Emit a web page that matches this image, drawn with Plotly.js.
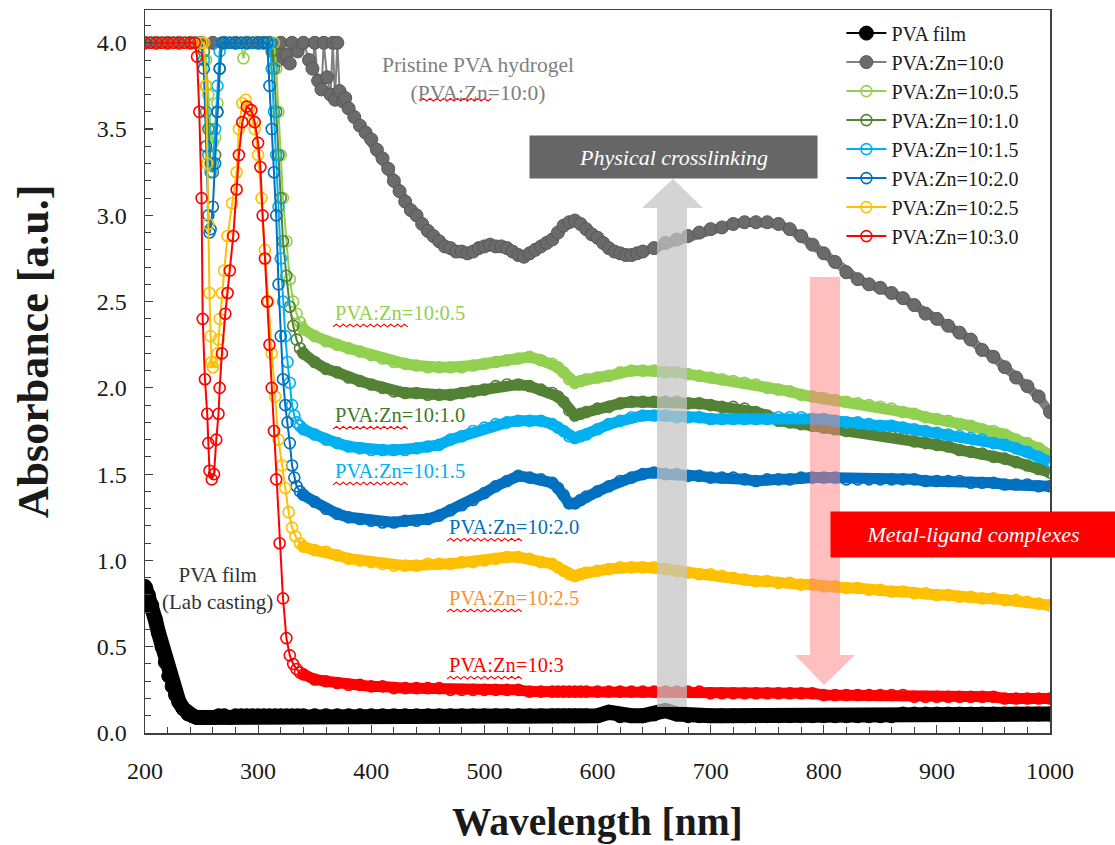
<!DOCTYPE html>
<html><head><meta charset="utf-8">
<script src="https://cdn.plot.ly/plotly-3.0.1.min.js"></script>
<style>html,body{margin:0;padding:0;background:#fff}</style>
</head><body><div id="chart" style="width:1115px;height:845px"></div>
<script>
// ---------- DATA ----------
// shared wavelength grid for the visible range (nm)
const wlVis = [340,350,360,370,380,390,400,410,420,430,
  440,450,460,470,480,490,500,510,520,530,
  540,550,560,565,570,575,580,585,590,600,
  610,620,630,640,650,660,670,680,690,700,
  710,720,730,740,750,760,770,780,790,800,
  810,820,830,840,850,860,870,880,890,900,
  910,920,930,940,950,960,970,980,990,1000];

// PVA film
const wlFilmUV  = [200,203,206,209,212,215,218,221,224,227,230,234,238,242,246,250,255,260,265,270,275,280,285,290,295,300,305,310,315,320,325,330,335];
const absFilmUV = [0.85,0.80,0.74,0.66,0.58,0.50,0.41,0.33,0.27,0.22,0.18,0.14,0.11,0.10,0.09,0.09,0.09,0.09,0.10,0.10,0.09,0.10,0.10,0.10,0.10,0.10,0.10,0.10,0.10,0.10,0.10,0.10,0.10];
const absFilmVis = [0.10,0.10,0.10,0.10,0.10,0.10,0.10,0.10,0.10,0.10,
  0.10,0.10,0.10,0.10,0.10,0.10,0.10,0.10,0.10,0.10,
  0.10,0.10,0.10,0.10,0.10,0.10,0.10,0.10,0.10,0.10,
  0.12,0.10,0.10,0.10,0.11,0.13,0.11,0.10,0.10,0.10,
  0.10,0.10,0.10,0.10,0.10,0.10,0.10,0.10,0.10,0.10,
  0.10,0.10,0.10,0.10,0.10,0.10,0.11,0.11,0.11,0.11,
  0.11,0.11,0.11,0.11,0.11,0.11,0.11,0.11,0.11,0.11];

// PVA:Zn = 10:0 (pristine hydrogel), own wavelength grid
const wlGel = [200,210,220,230,240,250,260,270,280,290,300,305,310,315,318,320,325,328,330,335,340,345,348,350,353,356,358,361,364,366,368,370,372,375,377,380,385,390,395,400,405,410,415,420,425,430,435,440,445,450,455,460,465,470,475,480,485,490,495,500,505,510,515,520,525,530,535,540,545,550,555,560,565,570,575,580,585,590,595,600,605,610,615,620,625,630,635,640,650,660,670,680,690,700,710,720,730,740,750,760,770,780,790,800,810,820,830,840,850,860,870,880,890,900,910,920,930,940,950,960,970,980,990,1000];
const absGel = [4,4,4,4,4,4,4,4,4,4,4,4,4,3.95,3.90,4.0,3.93,3.88,4.0,3.95,4.0,3.90,3.85,4.0,3.78,3.73,4.0,3.80,3.70,4.0,3.67,4.0,3.72,3.66,3.68,3.62,3.57,3.52,3.48,3.44,3.38,3.33,3.27,3.20,3.14,3.08,3.03,3.00,2.95,2.91,2.88,2.85,2.82,2.81,2.79,2.79,2.78,2.79,2.81,2.82,2.83,2.82,2.82,2.81,2.79,2.77,2.76,2.78,2.80,2.82,2.84,2.86,2.90,2.94,2.96,2.97,2.95,2.92,2.89,2.87,2.84,2.81,2.79,2.78,2.77,2.77,2.78,2.79,2.81,2.84,2.86,2.88,2.90,2.92,2.93,2.95,2.96,2.96,2.96,2.95,2.92,2.88,2.83,2.78,2.73,2.67,2.63,2.60,2.58,2.55,2.52,2.48,2.43,2.40,2.36,2.32,2.28,2.22,2.18,2.12,2.06,2.01,1.95,1.86];

// PVA:Zn = 10:0.5
const wlZn05UV  = [200,205,210,215,220,225,230,235,240,245,250,254,256,258,260,262,264,266,268,270,275,280,285,287,290,295,300,305,310,314,316,318,320,322,325,328,331,334,337];
const absZn05UV = [4,4,4,4,4,4,4,4,4,4,4,3.90,3.70,3.50,3.42,3.45,3.65,3.85,4,4,4,4,4,3.91,4,4,4,4,4,4.0,3.85,3.60,3.35,3.10,2.85,2.63,2.50,2.43,2.38];
const absZn05Vis = [2.34,2.30,2.27,2.25,2.23,2.21,2.19,2.17,2.15,2.14,
  2.13,2.12,2.12,2.12,2.12,2.13,2.14,2.15,2.16,2.17,
  2.18,2.16,2.14,2.12,2.09,2.05,2.03,2.04,2.05,2.06,
  2.07,2.09,2.10,2.10,2.10,2.09,2.09,2.08,2.07,2.06,
  2.05,2.04,2.03,2.02,2.00,1.99,1.98,1.96,1.95,1.94,
  1.93,1.92,1.91,1.90,1.89,1.88,1.86,1.85,1.83,1.82,
  1.81,1.79,1.78,1.76,1.75,1.73,1.70,1.68,1.65,1.61];

// PVA:Zn = 10:1.0
const wlZn10UV  = [200,205,210,215,220,225,230,235,240,245,250,252,254,256,258,260,262,264,266,268,270,275,280,285,290,295,300,305,310,312,314,316,318,320,322,325,328,331,334,337];
const absZn10UV = [4,4,4,4,4,4,4,4,4,4,4,3.95,3.75,3.50,3.30,3.25,3.35,3.60,3.85,4,4,4,4,4,4,4,4,4,4,3.95,3.85,3.60,3.35,3.10,2.85,2.65,2.47,2.36,2.28,2.23];
const absZn10Vis = [2.20,2.15,2.11,2.09,2.06,2.04,2.02,2.00,1.98,1.97,
  1.97,1.96,1.96,1.96,1.97,1.98,1.99,2.01,2.02,2.02,
  2.01,1.99,1.97,1.95,1.92,1.87,1.84,1.85,1.86,1.88,
  1.89,1.91,1.92,1.92,1.92,1.92,1.92,1.91,1.91,1.90,
  1.89,1.89,1.88,1.86,1.84,1.81,1.80,1.79,1.78,1.77,
  1.76,1.75,1.75,1.74,1.73,1.72,1.71,1.69,1.68,1.67,
  1.66,1.64,1.63,1.62,1.60,1.59,1.57,1.55,1.53,1.51];

// PVA:Zn = 10:1.5
const wlZn15UV  = [200,205,210,215,220,225,230,235,240,245,250,252,254,256,258,260,262,264,266,268,270,275,280,285,290,295,300,305,310,312,314,316,318,320,322,324,326,328,330,332,334,337];
const absZn15UV = [4,4,4,4,4,4,4,4,4,4,4,3.90,3.60,3.35,3.25,3.30,3.50,3.75,3.95,4,4,4,4,4,4,4,4,4,4,3.85,3.60,3.35,3.05,2.75,2.50,2.30,2.15,2.03,1.90,1.84,1.80,1.78];
const absZn15Vis = [1.76,1.73,1.70,1.68,1.66,1.65,1.64,1.64,1.64,1.64,
  1.65,1.66,1.67,1.70,1.72,1.75,1.77,1.79,1.80,1.81,
  1.81,1.81,1.79,1.77,1.75,1.72,1.71,1.72,1.73,1.76,
  1.79,1.81,1.83,1.84,1.84,1.84,1.83,1.83,1.83,1.82,
  1.82,1.82,1.82,1.82,1.82,1.83,1.83,1.83,1.82,1.82,
  1.81,1.80,1.80,1.79,1.78,1.78,1.77,1.76,1.75,1.74,
  1.73,1.72,1.71,1.70,1.68,1.67,1.65,1.63,1.60,1.57];

// PVA:Zn = 10:2.0
const wlZn20UV  = [200,205,210,215,220,225,230,235,240,245,250,252,254,256,257,258,260,262,264,266,268,270,275,280,285,290,295,300,305,308,310,312,314,316,318,320,322,324,326,328,330,332,334,337];
const absZn20UV = [4,4,4,4,4,4,4,4,4,4,4,3.85,3.40,3.00,2.90,2.92,3.05,3.30,3.60,3.85,4,4,4,4,4,4,4,4,4,4,3.75,3.50,3.25,3.00,2.60,2.30,2.05,1.90,1.80,1.68,1.55,1.48,1.43,1.40];
const absZn20Vis = [1.38,1.34,1.30,1.27,1.25,1.24,1.23,1.22,1.22,1.23,
  1.23,1.24,1.26,1.29,1.32,1.35,1.39,1.43,1.46,1.49,
  1.48,1.47,1.45,1.42,1.38,1.33,1.33,1.35,1.37,1.40,
  1.43,1.46,1.48,1.50,1.51,1.50,1.50,1.49,1.49,1.48,
  1.48,1.48,1.47,1.46,1.47,1.47,1.47,1.48,1.48,1.48,
  1.48,1.47,1.47,1.47,1.47,1.47,1.47,1.47,1.46,1.46,
  1.46,1.46,1.45,1.45,1.45,1.44,1.44,1.44,1.43,1.43];

// PVA:Zn = 10:2.5
const wlZn25UV  = [200,205,210,215,220,225,230,235,240,245,250,252,254,255,256,257,258,259,260,262,264,265,266,268,270,273,277,281,283,286,289,292,295,297,300,303,306,309,312,315,318,321,324,327,330,333,337];
const absZn25UV = [4,4,4,4,4,4,4,4,4,4,4,4,3.75,3.30,2.95,2.55,2.30,2.15,2.12,2.15,2.20,2.28,2.40,2.55,2.68,2.88,3.07,3.25,3.50,3.65,3.67,3.62,3.55,3.50,3.35,3.10,2.80,2.50,2.20,1.95,1.70,1.55,1.42,1.28,1.19,1.14,1.10];
const absZn25Vis = [1.08,1.06,1.05,1.03,1.01,1.00,0.99,0.98,0.97,0.97,
  0.97,0.98,0.98,0.98,0.99,0.99,1.00,1.01,1.02,1.02,
  1.01,0.99,0.98,0.96,0.94,0.92,0.91,0.92,0.93,0.94,
  0.95,0.96,0.96,0.96,0.96,0.95,0.94,0.93,0.92,0.92,
  0.91,0.90,0.89,0.88,0.88,0.87,0.87,0.86,0.86,0.85,
  0.85,0.84,0.84,0.83,0.83,0.82,0.82,0.81,0.81,0.80,
  0.80,0.79,0.79,0.78,0.78,0.77,0.77,0.76,0.75,0.74];

// PVA:Zn = 10:3.0
const wlZn30UV  = [200,205,210,215,220,225,230,235,240,244,246,248,250,251,253,255,256,257,259,261,263,265,266,268,271,273,275,278,281,283,286,290,294,297,300,302,304,306,308,310,312,314,316,319,322,325,328,331,334,337];
const absZn30UV = [4,4,4,4,4,4,4,4,4,4,3.92,3.60,3.10,2.40,2.05,1.85,1.68,1.52,1.47,1.50,1.70,1.85,2.00,2.20,2.43,2.55,2.68,2.88,3.15,3.35,3.54,3.63,3.61,3.54,3.42,3.28,3.00,2.75,2.50,2.25,2.00,1.75,1.47,1.10,0.78,0.55,0.45,0.40,0.37,0.35];
const absZn30Vis = [0.34,0.31,0.30,0.29,0.28,0.28,0.27,0.27,0.26,0.26,
  0.26,0.26,0.26,0.25,0.25,0.25,0.25,0.25,0.25,0.25,
  0.24,0.24,0.24,0.24,0.24,0.24,0.24,0.24,0.24,0.24,
  0.24,0.24,0.24,0.24,0.24,0.24,0.24,0.24,0.24,0.23,
  0.23,0.23,0.23,0.23,0.23,0.23,0.23,0.23,0.23,0.22,
  0.22,0.22,0.22,0.22,0.22,0.22,0.22,0.21,0.21,0.21,
  0.21,0.21,0.21,0.21,0.21,0.20,0.20,0.20,0.20,0.20];

const seriesNames = ['PVA film','PVA:Zn=10:0','PVA:Zn=10:0.5','PVA:Zn=10:1.0','PVA:Zn=10:1.5','PVA:Zn=10:2.0','PVA:Zn=10:2.5','PVA:Zn=10:3.0'];

// ---------- STYLE ----------
const FONT = 'Liberation Serif, Times New Roman, serif';
const series = [
  {name: seriesNames[0], x: wlFilmUV.concat(wlVis), y: absFilmUV.concat(absFilmVis), color:'#000000', fill:'#000000', edge:'#000000', filled:true, band:15, from:200, size:14},
  {name: seriesNames[1], x: wlGel, y: absGel, color:'#7f7f7f', fill:'#6b6b6b', edge:'#575757', filled:true, band:9, from:378, size:13},
  {name: seriesNames[2], x: wlZn05UV.concat(wlVis), y: absZn05UV.concat(absZn05Vis), color:'#92d050', filled:false, band:11, from:336},
  {name: seriesNames[3], x: wlZn10UV.concat(wlVis), y: absZn10UV.concat(absZn10Vis), color:'#548235', filled:false, band:11, from:336},
  {name: seriesNames[4], x: wlZn15UV.concat(wlVis), y: absZn15UV.concat(absZn15Vis), color:'#00b0f0', filled:false, band:11, from:336},
  {name: seriesNames[5], x: wlZn20UV.concat(wlVis), y: absZn20UV.concat(absZn20Vis), color:'#0070c0', filled:false, band:11, from:336},
  {name: seriesNames[6], x: wlZn25UV.concat(wlVis), y: absZn25UV.concat(absZn25Vis), color:'#ffc000', filled:false, band:11, from:336},
  {name: seriesNames[7], x: wlZn30UV.concat(wlVis), y: absZn30UV.concat(absZn30Vis), color:'#ff0000', filled:false, band:11, from:336}
];

const traces = [];
series.forEach(s => {
  const bx = [], by = [];
  s.x.forEach((v,i) => { if (v >= s.from) { bx.push(v); by.push(s.y[i]); } });
  traces.push({x: bx, y: by, type:'scatter', mode:'lines', legendgroup:s.name, showlegend:false,
    line:{color:s.color, width:s.band}, hoverinfo:'skip'});
  traces.push({x: s.x, y: s.y, type:'scatter', mode:'lines+markers', name:s.name, legendgroup:s.name,
    line:{color:s.color, width:2},
    marker: s.filled ? {symbol:'circle', size:s.size, color:s.fill, line:{color:s.edge, width:1}}
                     : {symbol:'circle-open', size:11, color:s.color, line:{width:1.6}}});
});

// pixel helpers for decoration sizes
const Y_TOP = 4.19;
const pxX = 905/800, pxY = 723/Y_TOP;

function squiggle(x0, y0, widthPx) {
  let d = 'M ' + x0 + ' ' + y0;
  const step = 3.4;
  for (let i = 1; i * step <= widthPx; i++) {
    const x = x0 + i * step / pxX;
    const y = y0 + ((i % 2) ? 2.6 : 0) / pxY;
    d += ' L ' + x.toFixed(3) + ' ' + y.toFixed(4);
  }
  return {type:'path', xref:'x', yref:'y', path:d, line:{color:'#ff0000', width:1.1}, layer:'above'};
}

const labels = [
  {text:'PVA:Zn=10:0.5', x:366.2, y:2.435, color:'#92d050'},
  {text:'PVA:Zn=10:1.0', x:366.2, y:1.843, color:'#3f7a2b'},
  {text:'PVA:Zn=10:1.5', x:366.2, y:1.519, color:'#00b0f0'},
  {text:'PVA:Zn=10:2.0', x:467.0, y:1.194, color:'#0070c0'},
  {text:'PVA:Zn=10:2.5', x:467.0, y:0.783, color:'#f7922f'},
  {text:'PVA:Zn=10:3',   x:467.0, y:0.394, color:'#ff0000'}
];

const annotations = labels.map(l => ({x:l.x, y:l.y, xref:'x', yref:'y', text:l.text, showarrow:false,
  xanchor:'left', yanchor:'middle', font:{family:FONT, size:20.5, color:l.color}}));

annotations.push({x:494.4, y:3.79, xref:'x', yref:'y', text:'Pristine PVA hydrogel<br>(PVA:Zn=10:0)', showarrow:false,
  xanchor:'center', yanchor:'middle', align:'center', font:{family:FONT, size:21.5, color:'#808080'}});
annotations.push({x:264.5, y:0.835, xref:'x', yref:'y', text:'PVA film<br>(Lab casting)', showarrow:false,
  xanchor:'center', yanchor:'middle', align:'center', font:{family:FONT, size:21, color:'#333333'}});
annotations.push({x:667.2, y:3.339, xref:'x', yref:'y', text:'<i>Physical crosslinking</i>', showarrow:false,
  xanchor:'center', yanchor:'middle', width:287, height:42, borderpad:0, bgcolor:'#666666',
  font:{family:FONT, size:22, color:'#ffffff'}});
annotations.push({x:931.9, y:1.151, xref:'x', yref:'y', text:'<i>Metal-ligand complexes</i>', showarrow:false,
  xanchor:'center', yanchor:'middle', width:284, height:45, borderpad:0, bgcolor:'#ff0000',
  font:{family:FONT, size:22, color:'#ffffff'}});
annotations.push({x:-0.1238, y:0.528, xref:'paper', yref:'paper', text:'<b>Absorbance [a.u.]</b>', showarrow:false,
  textangle:-90, xanchor:'center', yanchor:'middle', font:{family:FONT, size:44, color:'#1a1a1a'}});
annotations.push({x:0.5, y:-0.123, xref:'paper', yref:'paper', text:'<b>Wavelength [nm]</b>', showarrow:false,
  xanchor:'center', yanchor:'middle', font:{family:FONT, size:39.5, color:'#1a1a1a'}});

const shapes = [
  {type:'path', xref:'x', yref:'y', layer:'above', opacity:0.72, fillcolor:'#c4c4c4', line:{width:0},
   path:'M 652.6 0.151 L 652.6 3.043 L 639.3 3.043 L 666.7 3.212 L 693.3 3.043 L 679.1 3.043 L 679.1 0.151 Z'},
  {type:'path', xref:'x', yref:'y', layer:'above', opacity:0.5, fillcolor:'#ff7f7f', line:{width:0},
   path:'M 787.8 2.643 L 787.8 0.452 L 774.6 0.452 L 800.2 0.278 L 827.6 0.452 L 814.4 0.452 L 814.4 2.643 Z'}
];
labels.forEach(l => shapes.push(squiggle(l.x, l.y - 14 / pxY, 78)));
shapes.push(squiggle(443, 3.663, 74));

const tickFont = {family:FONT, size:24, color:'#1a1a1a'};
const layout = {
  width:1115, height:845,
  font:{family:FONT, color:'#1a1a1a'},
  margin:{l:145, r:65, t:10, b:112},
  paper_bgcolor:'#ffffff', plot_bgcolor:'#ffffff',
  xaxis:{range:[200,1000], tick0:200, dtick:100, ticklabelstandoff:16,
    showline:true, linecolor:'#404040', linewidth:1.5, mirror:true, showgrid:false, zeroline:false,
    ticks:'inside', ticklen:8, tickwidth:1.2, tickcolor:'#404040', tickfont:tickFont,
    minor:{dtick:20, ticks:'inside', ticklen:6, tickcolor:'#404040', tickwidth:1}},
  yaxis:{range:[0,Y_TOP], tick0:0, dtick:0.5, tickformat:'.1f', ticklabelstandoff:12,
    showline:true, linecolor:'#404040', linewidth:1.5, mirror:true, showgrid:false, zeroline:false,
    ticks:'inside', ticklen:8, tickwidth:1.2, tickcolor:'#404040', tickfont:tickFont,
    minor:{dtick:0.1, ticks:'inside', ticklen:6, tickcolor:'#404040', tickwidth:1}},
  showlegend:true,
  legend:{x:0.7695, y:0.995, xanchor:'left', yanchor:'top', bgcolor:'rgba(0,0,0,0)', itemwidth:40,
    traceorder:'grouped', tracegroupgap:0, font:{family:FONT, size:20, color:'#1a1a1a'}},
  annotations:annotations,
  shapes:shapes,
  hovermode:false
};

Plotly.newPlot('chart', traces, layout, {displayModeBar:false, staticPlot:true});
</script>
</body></html>
